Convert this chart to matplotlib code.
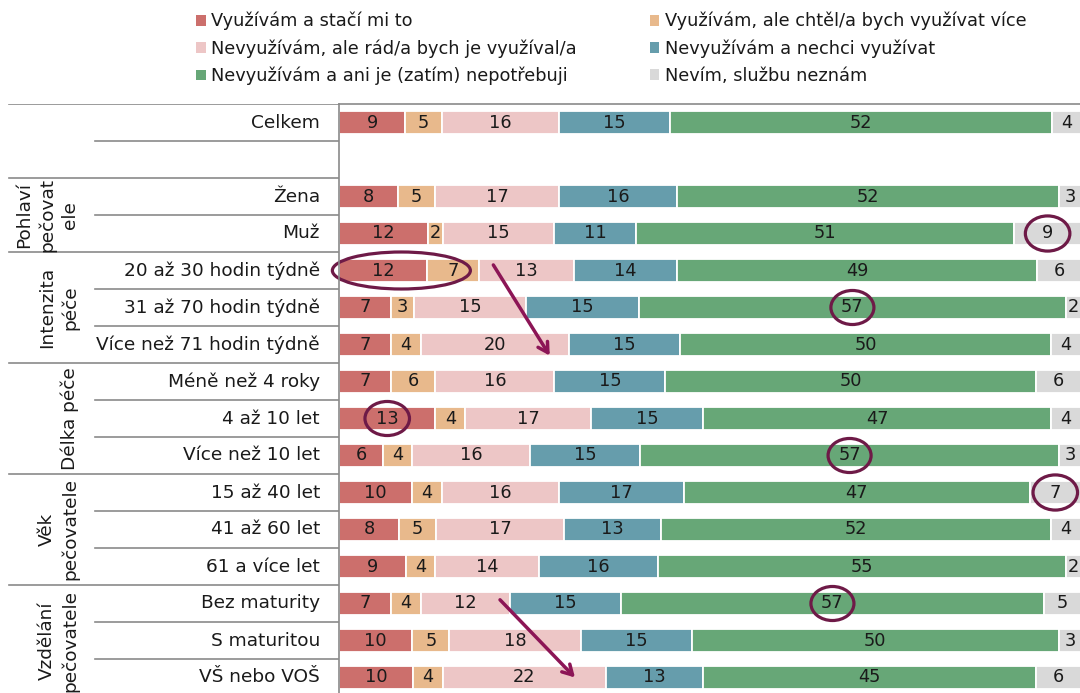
import numpy as np
import matplotlib
matplotlib.use("Agg")
import matplotlib.pyplot as plt
from matplotlib.patches import Patch, Ellipse

plt.rcParams['font.family'] = ['DejaVu Sans']

# --- data -------------------------------------------------------------
categories = ["Celkem", "", "Žena", "Muž",
              "20 až 30 hodin týdně", "31 až 70 hodin týdně", "Více než 71 hodin týdně",
              "Méně než 4 roky", "4 až 10 let", "Více než 10 let",
              "15 až 40 let", "41 až 60 let", "61 a více let",
              "Bez maturity", "S maturitou", "VŠ nebo VOŠ"]

series_names = ["Využívám a stačí mi to",
                "Využívám, ale chtěl/a bych využívat více",
                "Nevyužívám, ale rád/a bych je využíval/a",
                "Nevyužívám a nechci využívat",
                "Nevyužívám a ani je (zatím) nepotřebuji",
                "Nevím, službu neznám"]

nan = np.nan
vyuzivam_staci = [9, nan, 8, 12, 12, 7, 7, 7, 13, 6, 10, 8, 9, 7, 10, 10]
vyuzivam_vice = [5, nan, 5, 2, 7, 3, 4, 6, 4, 4, 4, 5, 4, 4, 5, 4]
nevyuzivam_rad = [16, nan, 17, 15, 13, 15, 20, 16, 17, 16, 16, 17, 14, 12, 18, 22]
nevyuzivam_nechci = [15, nan, 16, 11, 14, 15, 15, 15, 15, 15, 17, 13, 16, 15, 15, 13]
nepotrebuji = [52, nan, 52, 51, 49, 57, 50, 50, 47, 57, 47, 52, 55, 57, 50, 45]
nevim = [4, nan, 3, 9, 6, 2, 4, 6, 4, 3, 7, 4, 2, 5, 3, 6]

# group labels: (text, first row, last row)
groups = [("Pohlaví\npečovat\nele", 2, 3),
          ("Intenzita\npéče", 4, 6),
          ("Délka péče", 7, 9),
          ("Věk\npečovatele", 10, 12),
          ("Vzdělání\npečovatele", 13, 15)]

colors = ["#CC6F6C", "#E8B98C", "#EDC6C6", "#669DAC", "#67A777", "#D9D9D9"]
ring = "#6E1A47"
arrow_col = "#8C1556"
txt = "#1a1a1a"
line_col = "#8a8a8a"

vals = np.array([vyuzivam_staci, vyuzivam_vice, nevyuzivam_rad,
                 nevyuzivam_nechci, nepotrebuji, nevim], dtype=float)
shares = vals / vals.sum(axis=0) * 100
starts = np.vstack([np.zeros(vals.shape[1]), np.cumsum(shares, axis=0)[:-1]])

# --- figure -----------------------------------------------------------
W, H = 1080, 693
fig = plt.figure(figsize=(W / 100, H / 100), dpi=100)

top_px, row_px = 104, 37
n = len(categories)
bottom_px = top_px + n * row_px
x0_px, x1_px = 339, 1081

ax = fig.add_axes([x0_px / W, (H - bottom_px) / H, (x1_px - x0_px) / W, n * row_px / H])
tab = fig.add_axes([0, (H - bottom_px) / H, x0_px / W, n * row_px / H])

y = np.arange(n) + 0.5
for i in range(6):
    ax.barh(y, shares[i], left=starts[i], height=0.6, color=colors[i],
            edgecolor="white", linewidth=1.3)
    for r in range(n):
        if np.isnan(vals[i, r]):
            continue
        ax.text(starts[i, r] + shares[i, r] / 2, y[r], "%d" % vals[i, r],
                ha="center", va="center", fontsize=12.8, color=txt)

ax.set_xlim(0, 100)
ax.set_ylim(n, 0)
ax.axis("off")
ax.plot([0, 0], [0, n], color=line_col, lw=1.2, clip_on=False)
ax.plot([0, 100], [0, 0], color=line_col, lw=1.2, clip_on=False)

# --- left table --------------------------------------------------------
tab.set_xlim(0, x0_px)
tab.set_ylim(n, 0)
tab.axis("off")
group_starts = [g[1] for g in groups]
for r in range(1, n):
    xs = 9 if r in group_starts else 95
    tab.plot([xs, x0_px], [r, r], color=line_col, lw=1.2)
tab.plot([9, x0_px], [0, 0], color=line_col, lw=1.2)

for r, c in enumerate(categories):
    tab.text(320, y[r], c, ha="right", va="center", fontsize=13.3, color=txt)

for label, a, b in groups:
    tab.text(79, (a + b + 1) / 2, label, rotation=90, ha="right", va="center",
             multialignment="center", fontsize=13.3, color=txt, linespacing=1.32)

# --- highlights --------------------------------------------------------
def ring_at(series, row, w=6.0, h=0.95, xc=None):
    if xc is None:
        xc = starts[series, row] + shares[series, row] / 2
    ax.add_patch(Ellipse((xc, y[row]), w, h, fill=False, edgecolor=ring,
                         lw=2.3, clip_on=False))

ring_at(5, 3)
ring_at(0, 4, w=18.6, h=1.0, xc=(starts[1, 4] + shares[1, 4]) / 2 - 1.0)
ring_at(4, 5, w=5.8, h=0.92)
ring_at(0, 8, w=6.0, h=0.92)
ring_at(4, 9, w=5.8, h=0.92)
ring_at(5, 10, w=6.0, h=0.95)
ring_at(4, 13, w=5.8, h=0.92)

for (xa, ya), (xb, yb) in [((20.8, 4.35), (28.4, 6.8)), ((21.7, 13.4), (31.8, 15.5))]:
    ax.annotate("", xy=(xb, yb), xytext=(xa, ya), annotation_clip=False,
                arrowprops=dict(arrowstyle="->,head_length=0.7,head_width=0.4",
                                color=arrow_col, lw=2.5, shrinkA=0, shrinkB=0))

# --- legend ------------------------------------------------------------
handles = [Patch(facecolor=colors[i], label=series_names[i]) for i in range(6)]
order = [0, 2, 4, 1, 3, 5]
fig.legend([handles[i] for i in order], [series_names[i] for i in order],
           ncol=2, loc="upper left", bbox_to_anchor=(196 / W, 1 - 12 / H),
           frameon=False, fontsize=12.8, handlelength=0.55, handleheight=0.55,
           handletextpad=0.3, columnspacing=4.1, labelspacing=0.5,
           borderaxespad=0, borderpad=0, labelcolor=txt)

fig.savefig("out.png", dpi=100)
